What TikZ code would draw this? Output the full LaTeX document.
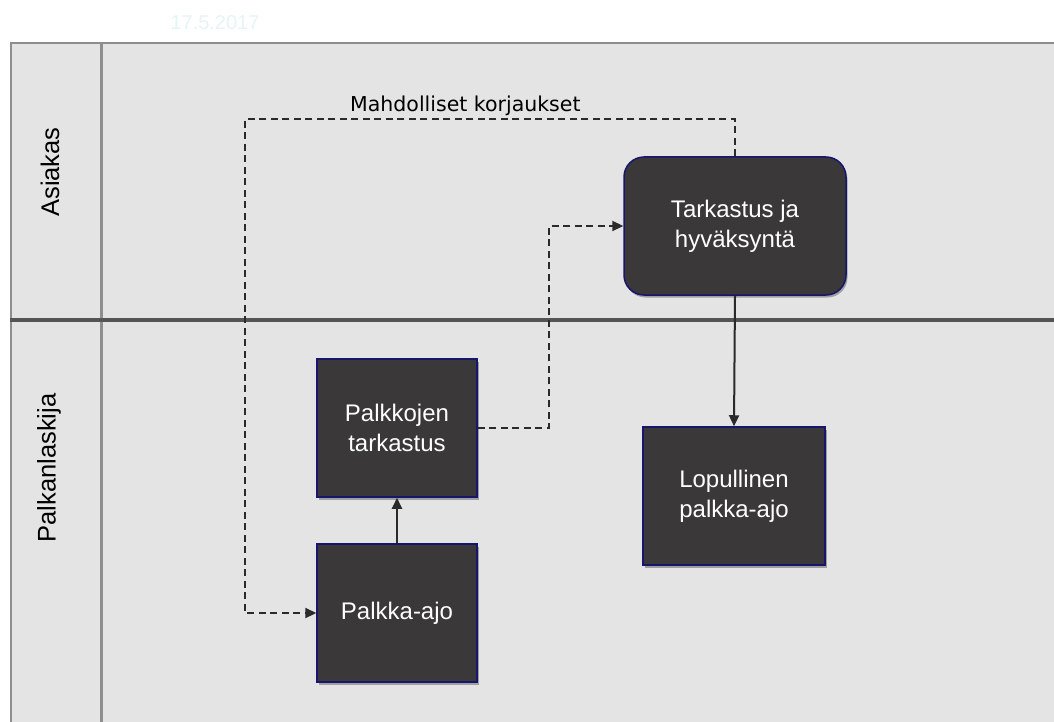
\documentclass[tikz,border=0pt]{standalone}
\usepackage{fontspec}
\setmainfont{Liberation Sans}
\newfontfamily\lblfont{DejaVu Sans}
\usetikzlibrary{arrows.meta,shadows}
\definecolor{lanefill}{HTML}{E4E4E4}
\definecolor{boxfill}{HTML}{3A3838}
\definecolor{boxline}{HTML}{16166E}
\definecolor{frameline}{HTML}{8E8E8E}
\definecolor{lanediv}{HTML}{545454}
\definecolor{conn}{HTML}{2A2A2A}
\definecolor{datecol}{HTML}{E6F4F6}
\tikzset{
  procbox/.style={draw=boxline, line width=1.5pt, fill=boxfill, text=white,
    minimum height=138pt, inner sep=0pt, align=center,
    font=\fontsize{24}{30}\selectfont,
    drop shadow={shadow xshift=1.5pt, shadow yshift=-2.5pt, opacity=0.3, fill=black}},
  solidconn/.style={draw=conn, line width=2pt, -{Triangle[length=11pt,width=10pt]}},
  dashconn/.style={draw=conn, line width=2.2pt, dash pattern=on 7pt off 4.5pt, -{Triangle[length=11pt,width=10pt]}},
  lanelabel/.style={rotate=90, font=\fontsize{25.5}{30}\selectfont, text=black, inner sep=0pt}
}
\begin{document}
\begin{tikzpicture}[x=1pt,y=-1pt]
\useasboundingbox (0,0) rectangle (1054,722);
\fill[white] (0,0) rectangle (1054,722);
% lanes
\fill[lanefill] (11,43) rectangle (1054,722);
\draw[frameline, line width=2.5pt] (10,43) -- (1054,43);
\draw[frameline, line width=2.5pt] (11,43) -- (11,722);
\draw[frameline, line width=3pt] (101,43) -- (101,722);
\draw[lanediv, line width=4pt] (10,320) -- (1054,320);
% date
\node (date) [text=datecol, font=\fontsize{20}{22}\selectfont] at (215,23) {17.5.2017};
% lane labels
\node (asiakas) [lanelabel] at (50,172) {Asiakas};
\node (palkanl) [lanelabel] at (49,468) {Palkanlaskija};
% process boxes
\node (tark) [procbox, minimum width=222pt, rounded corners=20pt] at (735,226) {Tarkastus ja\\hyväksyntä};
\node (palkt) [procbox, minimum width=160pt] at (397,428) {Palkkojen\\tarkastus};
\node (palka) [procbox, minimum width=160pt] at (397,613) {Palkka-ajo};
\node (lop) [procbox, minimum width=182pt] at (734,496) {Lopullinen\\palkka-ajo};
% helper coordinates
\coordinate (mid) at (549,0);
\coordinate (topy) at (0,119);
\coordinate (leftx) at (245,0);
% connectors
\draw[solidconn] (palka.north) -- (palkt.south);
\draw[solidconn] (tark.south) -- (lop.north);
\draw[dashconn] (palkt.east) -- (palkt.east -| mid) -- (tark.west -| mid) -- (tark.west);
\draw[dashconn] (tark.north) -- (tark.north |- topy) -- (leftx |- topy) -- (leftx |- palka.west) -- (palka.west);
% label
\node (korj) [anchor=base west, inner sep=0pt, font=\lblfont\fontsize{20.5}{24}\selectfont] at (350,112) {Mahdolliset korjaukset};
\end{tikzpicture}
\end{document}
